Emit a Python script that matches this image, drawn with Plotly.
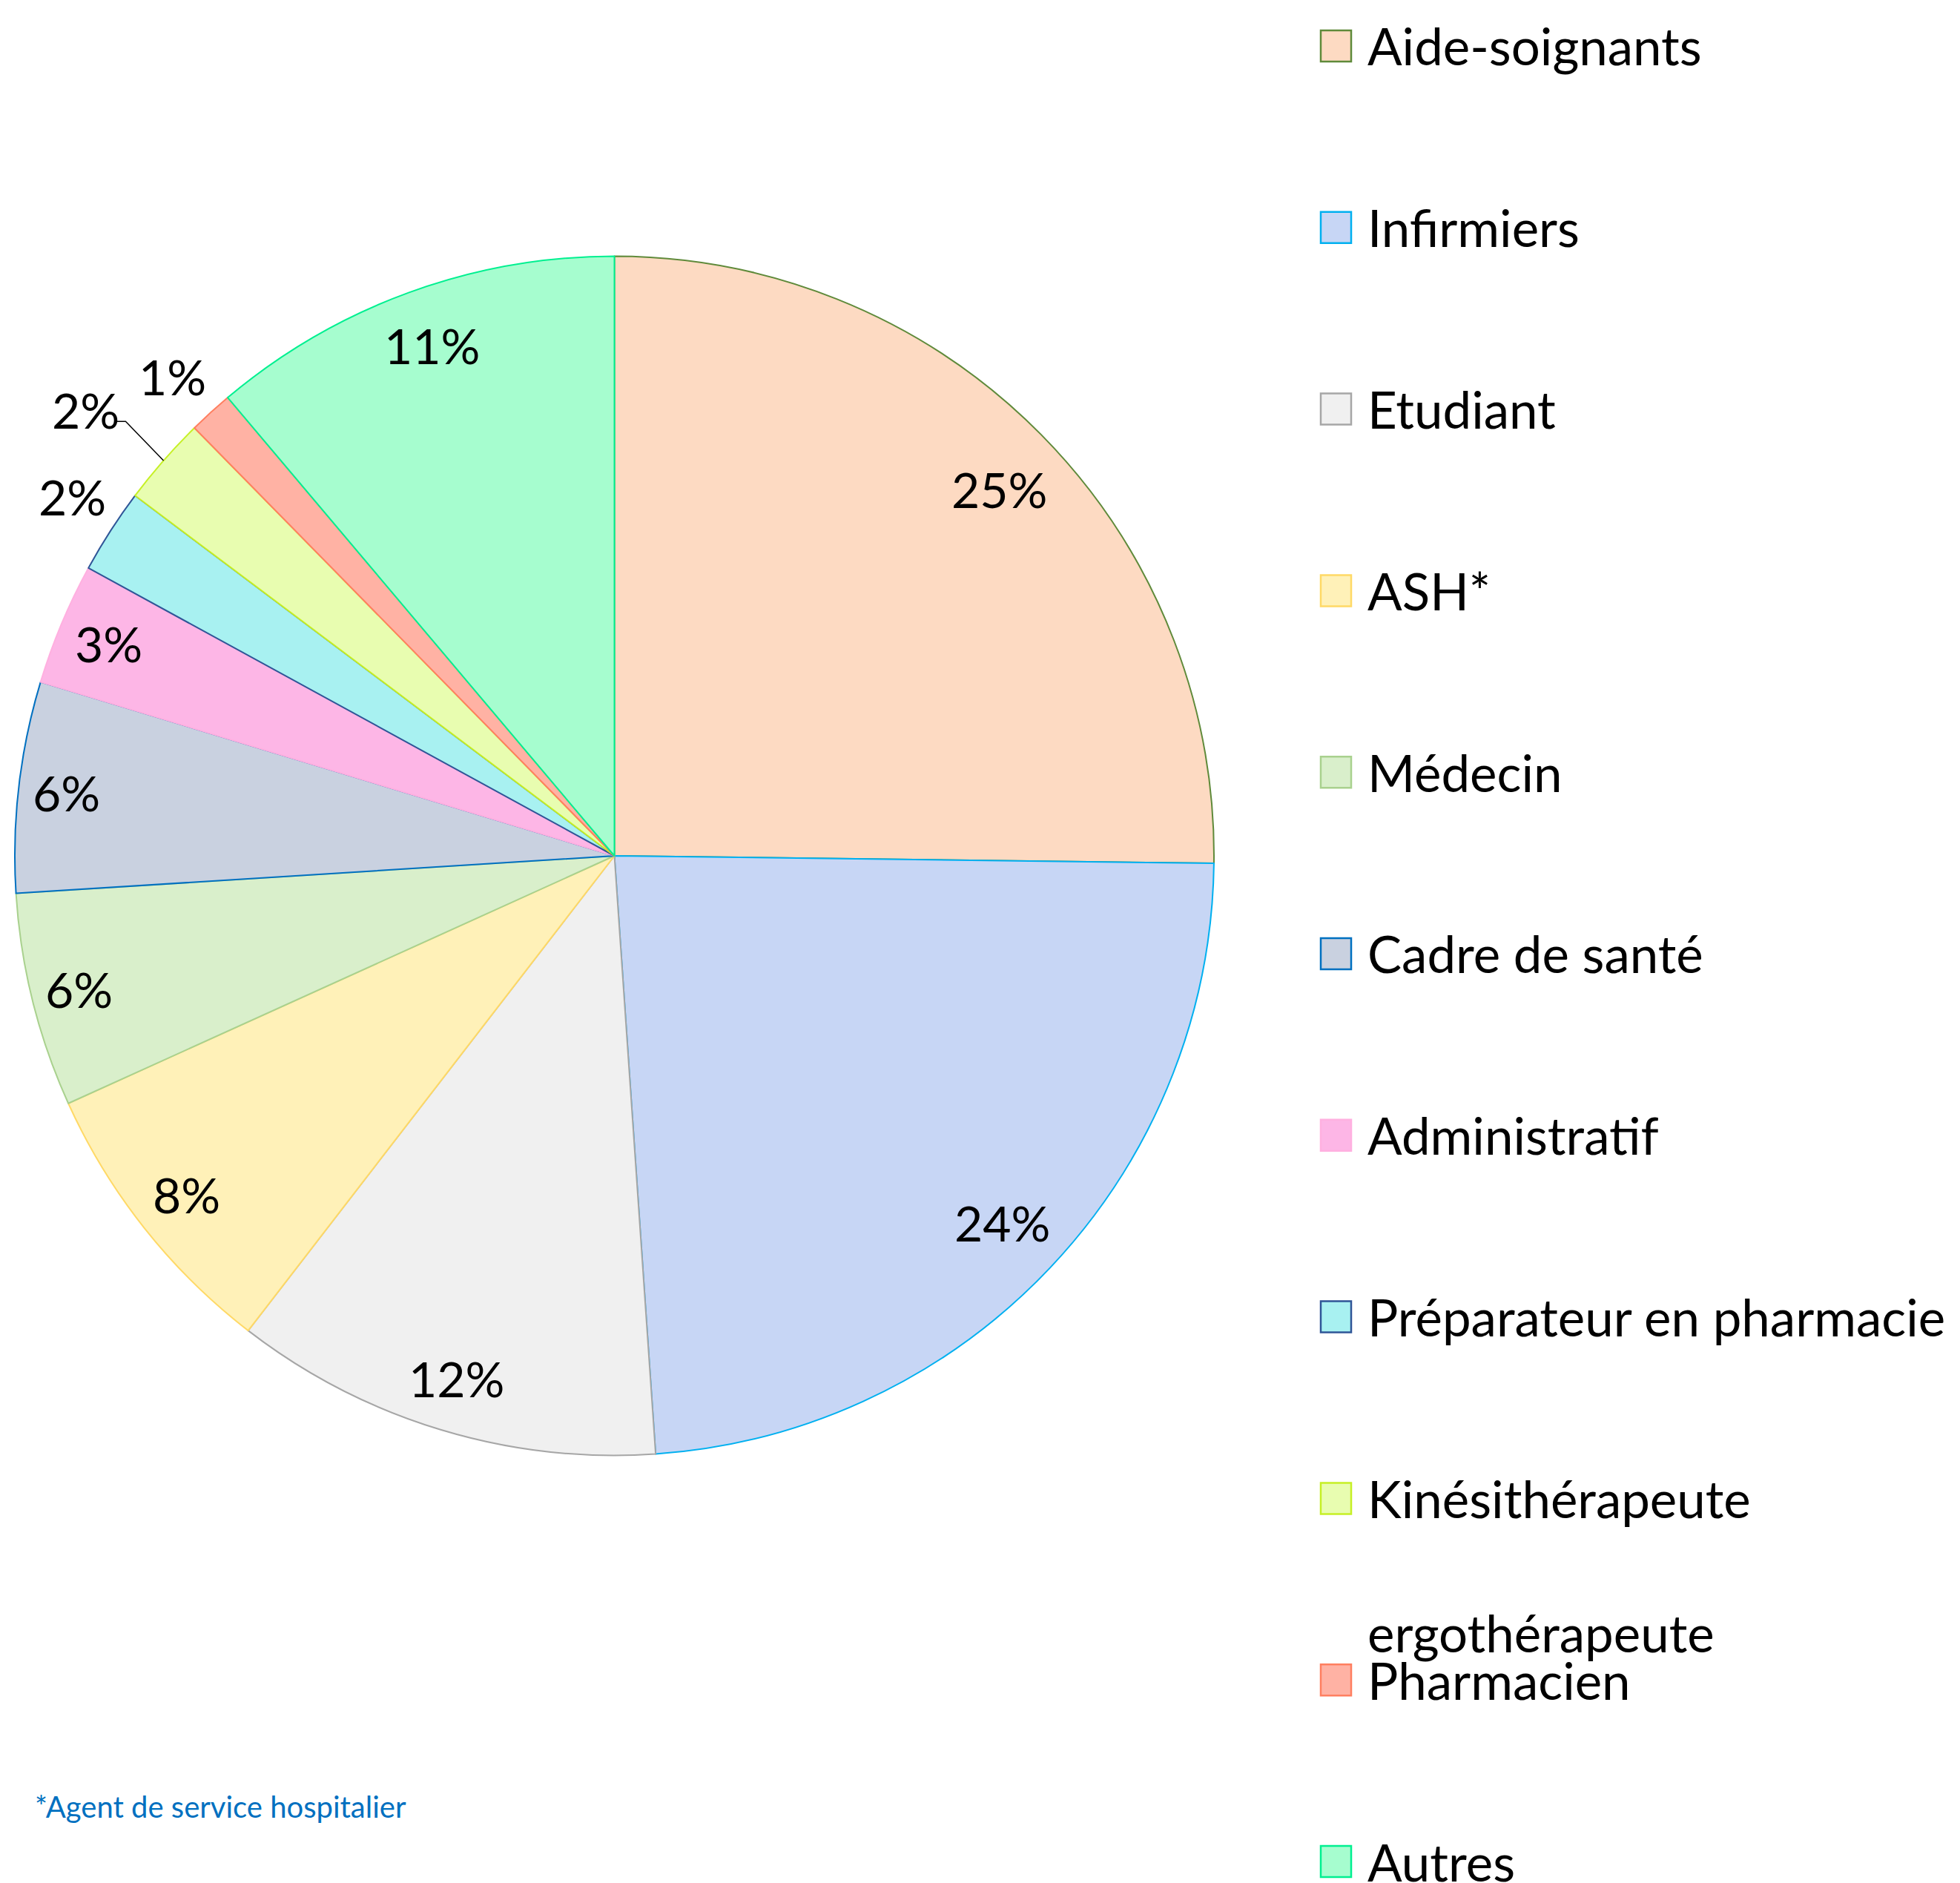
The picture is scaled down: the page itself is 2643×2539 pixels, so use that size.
import numpy as np
import plotly.graph_objects as go

# ---------------- data ----------------
categories = ["Aide-soignants", "Infirmiers", "Etudiant", "ASH*", "Médecin",
              "Cadre de santé", "Administratif", "Préparateur en pharmacie",
              "Kinésithérapeute\nergothérapeute", "Pharmacien", "Autres"]
values = [25.3, 23.8, 11.6, 7.8, 5.8, 5.7, 3.3, 2.3, 2.4, 1.2, 11.2]
footnote = "*Agent de service hospitalier"

# ---------------- style ----------------
fills = ["#FDDAC2", "#C7D6F5", "#F0F0F0", "#FFF1B8", "#D9EFCB", "#C9D1E0",
         "#FDB6E6", "#A8F1F1", "#E8FDB0", "#FFB2A4", "#A6FDCF"]
borders = ["#5F8A3A", "#00B0F0", "#A6A6A6", "#FFD966", "#A9D18E", "#0070C0",
           "#FFB0E0", "#2F5597", "#C6F025", "#FF7F60", "#00F090"]
label_r = [0.885, 0.89, 0.91, 0.91, 0.92, 0.92, 0.915, 1.085, 1.155, 1.09, 0.90]
label_shift = [(10, 8), (0, 0), (0, 0), (0, 0), (0, 0), (0, 0), (0, 0),
               (6, -9), (-11, 14), (-3, 5), (4, -5)]   # px nudges
FONT = "Lato"
W, H = 2643, 2539
cx, cy, R = 828.5, 1154.0, 808.5   # pie centre / radius in px

fig = go.Figure()
fig.add_trace(go.Pie(
    labels=[c.replace("\n", " ") for c in categories],
    values=values,
    sort=False,
    direction="clockwise",
    rotation=0,
    textinfo="none",
    hoverinfo="label+percent",
    showlegend=False,
    marker=dict(colors=fills, line=dict(color=borders, width=2)),
    domain=dict(x=[(cx - R) / W, (cx + R) / W],
                y=[1 - (cy + R) / H, 1 - (cy - R) / H]),
))

vals = np.array(values, dtype=float)
frac = vals / vals.sum()
cum = np.concatenate([[0], np.cumsum(frac)])
mid = (cum[:-1] + cum[1:]) / 2 * 2 * np.pi   # clockwise from 12 o'clock

annotations = []
shapes = []
for i, v in enumerate(frac):
    a = mid[i]
    r = R * label_r[i]
    x = cx + r * np.sin(a) + label_shift[i][0]
    y = cy - r * np.cos(a) + label_shift[i][1]
    annotations.append(dict(
        x=x / W, y=1 - y / H, xref="paper", yref="paper",
        text=f"{round(v * 100):.0f}%", showarrow=False,
        font=dict(family=FONT, size=66, color="black"),
        xanchor="center", yanchor="middle"))

# leader line for the Kinésithérapeute label
k = 8
a = mid[k]
ex, ey = cx + R * np.sin(a), cy - R * np.cos(a)
bx, by = cx + R * 1.084 * np.sin(a), cy - R * 1.084 * np.cos(a) - 8
shapes.append(dict(
    type="path", xref="paper", yref="paper",
    path=f"M {ex / W},{1 - ey / H} L {bx / W},{1 - by / H} L {(bx - 12) / W},{1 - by / H}",
    line=dict(color="black", width=1.5)))

# legend drawn manually
row0, step = 62.0, 244.8
sq_x0, sq_x1, sq_h = 1781, 1822, 42
text_x = 1842
for i, cat in enumerate(categories):
    yc = row0 + i * step
    shapes.append(dict(
        type="rect", xref="paper", yref="paper",
        x0=sq_x0 / W, x1=sq_x1 / W,
        y0=1 - (yc + sq_h / 2) / H, y1=1 - (yc - sq_h / 2) / H,
        fillcolor=fills[i], line=dict(color=borders[i], width=2.5)))
    for j, line in enumerate(cat.split("\n")):
        annotations.append(dict(
            x=text_x / W, y=1 - (yc + j * 181) / H, xref="paper", yref="paper",
            text=line, showarrow=False,
            font=dict(family=FONT, size=69, color="black"),
            xanchor="left", yanchor="middle"))

annotations.append(dict(
    x=45 / W, y=1 - 2436 / H, xref="paper", yref="paper",
    text=footnote, showarrow=False,
    font=dict(family=FONT, size=40, color="#0070C0"),
    xanchor="left", yanchor="middle"))

fig.update_layout(
    width=W, height=H,
    margin=dict(l=0, r=0, t=0, b=0),
    paper_bgcolor="white", plot_bgcolor="white",
    annotations=annotations, shapes=shapes,
    font=dict(family=FONT),
)

fig.write_html("out.html",
               config={"displayModeBar": False},
               post_script="document.body.style.margin='0';document.body.style.overflow='hidden';")
